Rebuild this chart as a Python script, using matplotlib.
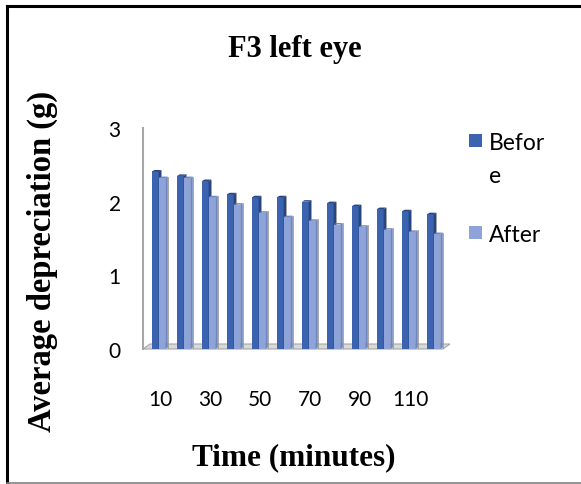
import matplotlib
matplotlib.use('Agg')
import matplotlib.pyplot as plt
from matplotlib.patches import Polygon, Rectangle
from matplotlib.lines import Line2D

# average depreciation per 10-minute interval, left eye of F3
minutes = [10, 20, 30, 40, 50, 60, 70, 80, 90, 100, 110, 120]
before = [2.41, 2.35, 2.28, 2.10, 2.06, 2.06, 2.00, 1.98, 1.94, 1.90, 1.87, 1.83]
after = [2.32, 2.32, 2.06, 1.96, 1.85, 1.79, 1.74, 1.69, 1.66, 1.62, 1.59, 1.56]
series_names = ['Befor\ne', 'After']
yticks = [0, 1, 2, 3]

W, H = 581, 485
front_colors = ['#3C63B0', '#8EA4D8']
side_colors = ['#27457F', '#6F86C0']

fig = plt.figure(figsize=(W / 100, H / 100), dpi=100)
fig.patch.set_facecolor('white')


def px(x, y):
    # pixel position (from top-left) -> figure fraction
    return x / W, 1 - y / H


# plot area: 0 at y=350px, 3 at y=129px, category centres 25px apart
ax_l, ax_r, ax_t, ax_b = 143, 450, 129, 350
ax = fig.add_axes([ax_l / W, 1 - ax_b / H, (ax_r - ax_l) / W, (ax_b - ax_t) / H])
x0 = 160
ax.set_xlim(-(x0 - ax_l) / 25, (ax_r - x0) / 25)
ax.set_ylim(0, 3)
for s in ax.spines.values():
    s.set_visible(False)

ppx = 1 / 25.0                      # one pixel in category units
ppy = 3.0 / (ax_b - ax_t)           # one pixel in value units

# floor of the 3-D plot
floor = Polygon([(-(x0 - 143) * ppx, 0), ((443 - x0) * ppx, 0),
                 ((450 - x0) * ppx, 5 * ppy), ((150 - x0) * ppx, 5 * ppy)],
                closed=True, facecolor='#D9D9D9', edgecolor='#A6A6A6',
                lw=0.8, clip_on=False, zorder=1)
ax.add_patch(floor)
# back wall edge
ax.plot([-(x0 - 143) * ppx] * 2, [0, 3], color='#A6A6A6', lw=1.5,
        clip_on=False, zorder=1)

xs = list(range(len(minutes)))
bw = 6.6 * ppx
depth_x, depth_y = 2.6 * ppx, 1.5 * ppy
offsets = [-8 * ppx, -1.4 * ppx]

for k, vals in enumerate([before, after]):
    lefts = [x + offsets[k] for x in xs]
    ax.bar(lefts, vals, width=bw, align='edge', color=front_colors[k],
           edgecolor='none', zorder=2 + 2 * k)
    for xl, v in zip(lefts, vals):
        xr = xl + bw
        side = Polygon([(xr, 0), (xr + depth_x, depth_y),
                        (xr + depth_x, v + depth_y), (xr, v)],
                       closed=True, facecolor=side_colors[k],
                       edgecolor='none', zorder=2 + 2 * k)
        top = Polygon([(xl, v), (xl + depth_x, v + depth_y),
                       (xr + depth_x, v + depth_y), (xr, v)],
                      closed=True, facecolor=side_colors[k],
                      edgecolor='none', zorder=2 + 2 * k)
        ax.add_patch(side)
        ax.add_patch(top)
        # faint shadow line along the right edge
        ax.plot([xr + depth_x, xr + depth_x], [depth_y, v + depth_y],
                color='#9A9A9A', lw=0.6, zorder=3 + 2 * k)

tick_font = 'Lato'
ax.set_yticks(yticks)
ax.set_yticklabels([str(t) for t in yticks], fontfamily=tick_font, fontsize=15)
ax.set_xticks(xs[::2])
ax.set_xticklabels([str(m) for m in minutes[::2]], fontfamily=tick_font,
                   fontsize=15)
ax.tick_params(axis='y', length=0, pad=16)
ax.tick_params(axis='x', length=0, pad=29)

serif = 'Liberation Serif'
fig.text(*px(295, 50), 'F3 left eye', ha='center', va='center',
         fontfamily=serif, fontweight='bold', fontsize=22)
fig.text(*px(294, 458), 'Time (minutes)', ha='center', va='center',
         fontfamily=serif, fontweight='bold', fontsize=22.5)
fig.text(*px(42, 261), 'Average depreciation (g)', ha='center', va='center',
         rotation=90, fontfamily=serif, fontweight='bold', fontsize=23.5)

# legend, label wrapped as in the chart box
leg_base = [150, 242]
for k, name in enumerate(series_names):
    fx, fy = px(469, leg_base[k] - 2)
    fig.add_artist(Rectangle((fx, fy), 13 / W, 13 / H, transform=fig.transFigure,
                             facecolor=front_colors[k], edgecolor='none'))
    for i, line in enumerate(name.split('\n')):
        fig.text(*px(489, leg_base[k] + 33 * i), line, ha='left',
                 va='baseline', fontfamily=tick_font, fontsize=16.5)

# chart frame
fig.add_artist(Line2D([7 / W, 1], [1 - 7 / H] * 2, transform=fig.transFigure,
                      color='black', lw=2.2))
fig.add_artist(Line2D([7 / W] * 2, [0, 1 - 7 / H], transform=fig.transFigure,
                      color='black', lw=2.2))
fig.add_artist(Line2D([7 / W, 1], [1 - 484 / H] * 2, transform=fig.transFigure,
                      color='#808080', lw=1.2))

fig.savefig('out.png', dpi=100)
